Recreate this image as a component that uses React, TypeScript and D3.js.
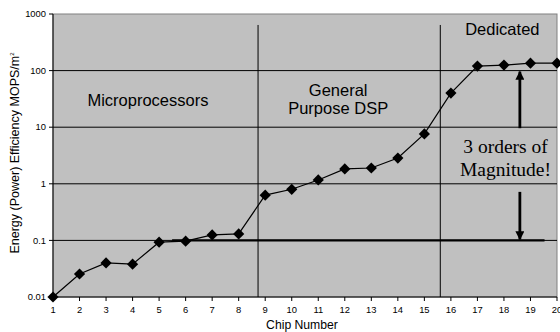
import React from 'react';
import * as d3 from 'd3';

// chip number vs energy efficiency (MOPS/mW)
const chips = [1, 2, 3, 4, 5, 6, 7, 8, 9, 10, 11, 12, 13, 14, 15, 16, 17, 18, 19, 20];
const efficiency = [0.01, 0.0255, 0.04, 0.038, 0.093, 0.097, 0.125, 0.13, 0.63, 0.8, 1.17, 1.83, 1.9, 2.85, 7.6, 40, 120, 125, 135, 135];
const yTicks = [0.01, 0.1, 1, 10, 100, 1000];
const gridValues = [0.1, 1, 10, 100];
const separators = [8.73, 15.6];
const regionLabels = [
  { lines: ['Microprocessors'], x: 4.58, y: 23.7 },
  { lines: ['General', 'Purpose DSP'], x: 11.75, y: 35.5 },
  { lines: ['Dedicated'], x: 17.94, y: 426 },
];
// "3 orders of magnitude" annotation
const baseLine = { from: 5.49, to: 19.53, value: 0.1 };
const arrowX = 18.6;
const upArrow = [9.6, 100];
const downArrow = [0.72, 0.1];
const noteLines = ['3 orders of', 'Magnitude!'];
const noteX = 18.06;
const noteY = 3.5;

const W = 560;
const H = 332;
const margin = { top: 14, right: 3, bottom: 35, left: 53 };
const sans = "'Liberation Sans', Arial, sans-serif";

const App = () => {
  const innerW = W - margin.left - margin.right;
  const innerH = H - margin.top - margin.bottom;

  const x = d3.scaleLinear().domain([1, 20]).range([0, innerW]);
  const y = d3.scaleLog().domain([0.01, 1000]).range([innerH, 0]);

  const points = chips.map((c, i) => ({ c, v: efficiency[i] }));
  const line = d3.line<{ c: number; v: number }>()
    .x(d => x(d.c))
    .y(d => y(d.v));
  const diamond = d3.symbol().type(d3.symbolDiamond2).size(80)();

  const ax = x(arrowX);

  return (
    <svg width={W} height={H} style={{ position: 'absolute', left: 0, top: 0 }} fontFamily={sans}>
      <defs>
        <marker id="head" viewBox="0 0 10 10" refX="9" refY="5" markerWidth="3.2" markerHeight="3.2" orient="auto">
          <path d="M0,0 L10,5 L0,10 z" fill="#000" />
        </marker>
      </defs>
      <g transform={`translate(${margin.left},${margin.top})`}>
        <rect width={innerW} height={innerH} fill="#c0c0c0" stroke="#808080" strokeWidth={1} />

        {gridValues.map(v => (
          <line key={v} x1={0} x2={innerW} y1={y(v)} y2={y(v)} stroke="#000" strokeWidth={1} />
        ))}
        {separators.map(s => (
          <line key={s} x1={x(s)} x2={x(s)} y1={y(640)} y2={innerH} stroke="#000" strokeWidth={1} />
        ))}

        {/* y axis */}
        <line x1={0} x2={0} y1={0} y2={innerH} stroke="#000" strokeWidth={1} />
        {yTicks.map(t => (
          <g key={t} transform={`translate(0,${y(t)})`}>
            <line x1={-4} x2={0} stroke="#000" />
            <text x={-7} dy="0.35em" textAnchor="end" fontSize={9.4} fill="#000">{t}</text>
          </g>
        ))}

        {/* x axis */}
        <line x1={0} x2={innerW} y1={innerH} y2={innerH} stroke="#000" strokeWidth={1} />
        {chips.map(c => (
          <g key={c} transform={`translate(${x(c)},${innerH})`}>
            <line y1={0} y2={4} stroke="#000" />
            <text y={16} textAnchor="middle" fontSize={9.4} fill="#000">{c}</text>
          </g>
        ))}

        <path d={line(points) || ''} fill="none" stroke="#000" strokeWidth={1.2} />
        {points.map(p => (
          <path key={p.c} d={diamond || ''} transform={`translate(${x(p.c)},${y(p.v)})`} fill="#000" />
        ))}

        {regionLabels.map(r => (
          <text key={r.lines[0]} x={x(r.x)} y={y(r.y)} textAnchor="middle" fontSize={16.5} fill="#000">
            {r.lines.map((l, i) => (
              <tspan key={l} x={x(r.x)} dy={i === 0 ? 0 : 18}>{l}</tspan>
            ))}
          </text>
        ))}

        <line x1={x(baseLine.from)} x2={x(baseLine.to)} y1={y(baseLine.value)} y2={y(baseLine.value)} stroke="#000" strokeWidth={2.2} />
        <line x1={ax} x2={ax} y1={y(upArrow[0])} y2={y(upArrow[1]) + 1} stroke="#000" strokeWidth={2.8} markerEnd="url(#head)" />
        <line x1={ax} x2={ax} y1={y(downArrow[0])} y2={y(downArrow[1]) - 1} stroke="#000" strokeWidth={2.8} markerEnd="url(#head)" />
        <text y={y(noteY)} textAnchor="middle" fontSize={19.5} fontFamily="'Liberation Serif', 'Times New Roman', serif" fill="#000">
          {noteLines.map((l, i) => (
            <tspan key={l} x={x(noteX)} dy={i === 0 ? 0 : 23}>{l}</tspan>
          ))}
        </text>
      </g>

      <text x={302} y={329} textAnchor="middle" fontSize={12.2} fill="#000">Chip Number</text>
      <text transform={`translate(19,153) rotate(-90)`} textAnchor="middle" fontSize={12.5} fill="#000">
        Energy (Power) Efficiency  MOPS/m
        <tspan fontSize={6} dy={-5}>2</tspan>
      </text>
    </svg>
  );
};

export default App;
